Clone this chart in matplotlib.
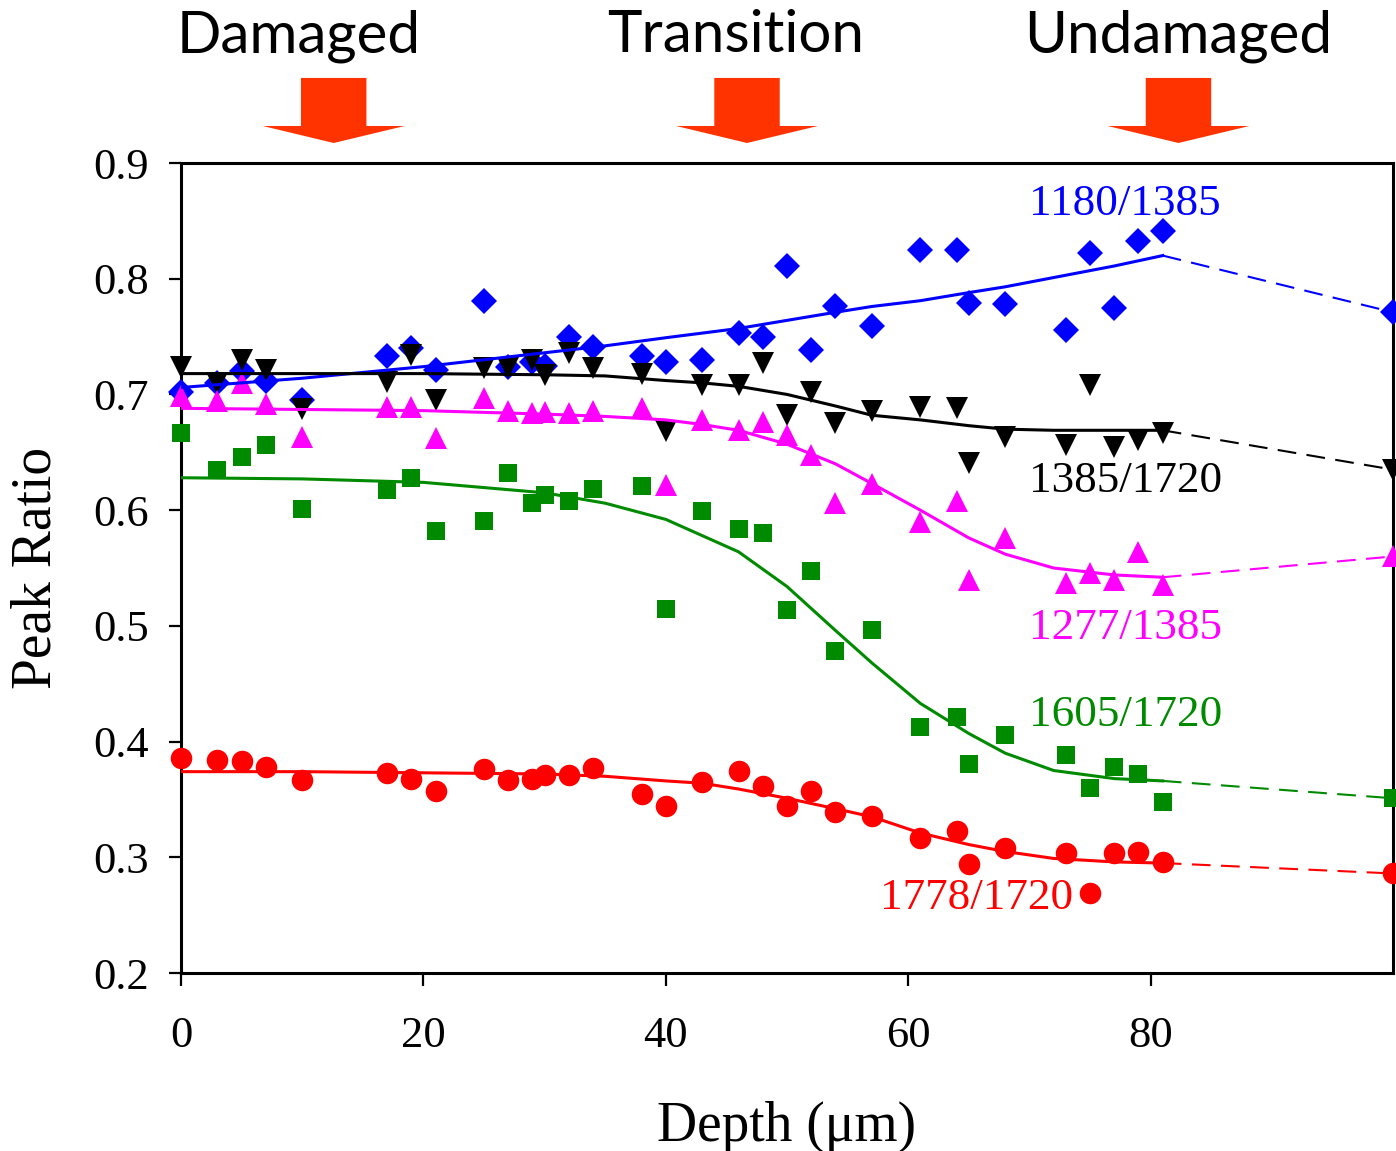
#!/usr/bin/env python3
"""
Peak ratio vs depth for the five band ratios, with fitted trends.
Saves out.png.
"""
import matplotlib
matplotlib.use("Agg")
import matplotlib.pyplot as plt
from matplotlib.patches import Polygon
from matplotlib.transforms import blended_transform_factory

# measured depths (um)
depth = [0, 3, 5, 7, 10, 17, 19, 21, 25, 27, 29, 30, 32, 34, 38, 40, 43, 46,
         48, 50, 52, 54, 57, 61, 64, 65, 68, 73, 75, 77, 79, 81, 100]

r1180_1385 = [0.702, 0.710, 0.720, 0.712, 0.695, 0.733, 0.740, 0.721, 0.781,
              0.724, 0.728, 0.725, 0.750, 0.741, 0.733, 0.728, 0.730, 0.753,
              0.750, 0.811, 0.738, 0.776, 0.759, 0.825, 0.825, 0.779, 0.778,
              0.756, 0.822, 0.775, 0.833, 0.841, 0.771]
r1385_1720 = [0.724, 0.710, 0.730, 0.721, 0.687, 0.711, 0.734, 0.695, 0.723,
              0.723, 0.730, 0.717, 0.736, 0.723, 0.718, 0.668, 0.708, 0.708,
              0.727, 0.682, 0.702, 0.675, 0.686, 0.689, 0.688, 0.641, 0.663,
              0.656, 0.708, 0.655, 0.661, 0.667, 0.635]
r1277_1385 = [0.699, 0.694, 0.710, 0.692, 0.663, 0.689, 0.689, 0.662, 0.697,
              0.686, 0.684, 0.685, 0.684, 0.686, 0.688, 0.622, 0.678, 0.669,
              0.676, 0.665, 0.648, 0.606, 0.623, 0.590, 0.608, 0.540, 0.576,
              0.537, 0.546, 0.540, 0.564, 0.535, 0.560]
r1605_1720 = [0.667, 0.635, 0.646, 0.656, 0.601, 0.617, 0.628, 0.582, 0.591,
              0.632, 0.606, 0.613, 0.608, 0.618, 0.621, 0.515, 0.599, 0.584,
              0.580, 0.514, 0.547, 0.478, 0.496, 0.413, 0.421, 0.381, 0.406,
              0.388, 0.360, 0.378, 0.372, 0.348, 0.351]
r1778_1720 = [0.386, 0.384, 0.383, 0.378, 0.367, 0.373, 0.368, 0.357, 0.376,
              0.367, 0.368, 0.371, 0.371, 0.377, 0.355, 0.344, 0.365, 0.375,
              0.362, 0.344, 0.357, 0.339, 0.336, 0.317, 0.323, 0.294, 0.308,
              0.304, 0.269, 0.304, 0.305, 0.296, 0.286]

# fitted trend curves (solid up to 81 um, dashed on to 100 um)
fit_depth = [0, 10, 20, 30, 35, 40, 43, 46, 50, 54, 57, 61, 65, 68, 72, 77, 81]
fit_1180_1385 = [0.706, 0.714, 0.724, 0.736, 0.742, 0.749, 0.753, 0.757, 0.764,
                 0.771, 0.776, 0.781, 0.788, 0.793, 0.801, 0.811, 0.820]
fit_1385_1720 = [0.718, 0.718, 0.718, 0.717, 0.716, 0.712, 0.710, 0.707, 0.700,
                 0.690, 0.682, 0.678, 0.673, 0.670, 0.669, 0.669, 0.669]
fit_1277_1385 = [0.688, 0.687, 0.686, 0.683, 0.681, 0.678, 0.674, 0.669, 0.657,
                 0.640, 0.623, 0.600, 0.576, 0.562, 0.550, 0.544, 0.542]
fit_1605_1720 = [0.628, 0.627, 0.624, 0.615, 0.606, 0.592, 0.578, 0.564, 0.534,
                 0.496, 0.468, 0.433, 0.407, 0.390, 0.375, 0.368, 0.366]
fit_1778_1720 = [0.374, 0.374, 0.373, 0.372, 0.370, 0.366, 0.364, 0.359, 0.351,
                 0.342, 0.335, 0.321, 0.311, 0.305, 0.299, 0.296, 0.295]

zones = ["Damaged", "Transition", "Undamaged"]
zone_text_depth = [9.7, 45.8, 82.3]
zone_arrow_depth = [12.6, 46.7, 82.3]

series = [
    ("1180/1385", r1180_1385, fit_1180_1385, "#0000ff", "D", 13, (77.9, 0.865)),
    ("1385/1720", r1385_1720, fit_1385_1720, "#000000", "v", 16, (77.9, 0.625)),
    ("1277/1385", r1277_1385, fit_1277_1385, "#ff00ff", "^", 16, (77.9, 0.498)),
    ("1605/1720", r1605_1720, fit_1605_1720, "#008a00", "s", 13.5, (77.9, 0.423)),
    ("1778/1720", r1778_1720, fit_1778_1720, "#ff0000", "o", 15.5, (65.6, 0.265)),
]

SERIF = ["Liberation Serif", "DejaVu Serif"]


def main():
    fig = plt.figure(figsize=(13.96, 11.51), dpi=100)
    ax = fig.add_axes([181 / 1396, 1 - 973 / 1151, 1212 / 1396, 810 / 1151])

    for name, vals, fit, col, mk, ms, (tx, ty) in series:
        ax.plot(depth, vals, linestyle="none", marker=mk, markersize=ms,
                color=col, markeredgewidth=0, clip_on=False, zorder=3)
        ax.plot(fit_depth, fit, color=col, lw=2.2, zorder=4)
        # extrapolation to the last (100 um) point
        ax.plot([fit_depth[-1], depth[-1]], [fit[-1], vals[-1]], color=col,
                lw=1.5, dashes=(9, 5), zorder=4, clip_on=False)
        ax.text(tx, ty, name, color=col, fontsize=32.5, family=SERIF,
                ha="center", va="center", zorder=5)

    ax.set_xlim(0, 100)
    ax.set_ylim(0.2, 0.9)
    ax.set_xticks([0, 20, 40, 60, 80])
    ax.set_yticks([0.2, 0.3, 0.4, 0.5, 0.6, 0.7, 0.8, 0.9])
    ax.set_yticklabels([f"{v:.1f}" for v in ax.get_yticks()])
    for sp in ax.spines.values():
        sp.set_linewidth(2.2)
    ax.tick_params(axis="both", direction="out", length=9, width=1.6,
                   labelsize=32, top=False, right=False)
    ax.tick_params(axis="x", pad=22)
    ax.tick_params(axis="y", pad=14)
    for lab in ax.get_xticklabels() + ax.get_yticklabels():
        lab.set_family(SERIF)

    ax.set_xlabel("Depth (\u03bcm)", fontsize=40, family=SERIF, labelpad=32)
    ax.set_ylabel("Peak Ratio", fontsize=40, family=SERIF, labelpad=22)

    # zone headers and block arrows above the plot
    tr = blended_transform_factory(ax.transData, ax.transAxes)
    for label, tx in zip(zones, zone_text_depth):
        ax.text(tx, 1.137, label, transform=tr, fontsize=42, family="Lato",
                ha="center", va="baseline", clip_on=False)
    for cx in zone_arrow_depth:
        shaft, head = 2.7, 5.85
        pts = [(cx - shaft, 1.105), (cx + shaft, 1.105), (cx + shaft, 1.0457),
               (cx + head, 1.0457), (cx, 1.0247), (cx - head, 1.0457),
               (cx - shaft, 1.0457)]
        ax.add_patch(Polygon(pts, closed=True, transform=tr, facecolor="#ff3300",
                             edgecolor="none", clip_on=False))

    fig.savefig("out.png", dpi=100)
    plt.close(fig)


if __name__ == "__main__":
    main()
